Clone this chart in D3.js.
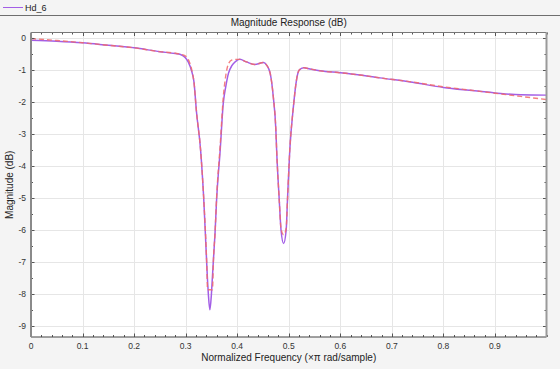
<!DOCTYPE html>
<html><head><meta charset="utf-8">
<script src="https://cdn.jsdelivr.net/npm/d3@7"></script>
<style>
html,body{margin:0;padding:0;background:#f4f4f4;}
svg{display:block;font-family:"Liberation Sans",Arial,Helvetica,sans-serif;}
</style></head>
<body>
<svg id="chart" width="560" height="369"></svg>
<script>
// ---- data ----
const freq = [0,0.05,0.1,0.15,0.2,0.25,0.28,0.29,0.299,0.305,0.312,0.316,0.321,0.329,0.335,0.341,0.3425,0.344,0.347,0.350,0.352,0.354,0.357,0.360,0.367,0.373,0.378,0.383,0.390,0.396,0.405,0.418,0.434,0.451,0.457,0.464,0.470,0.475,0.4765,0.4816,0.485,0.490,0.495,0.4975,0.502,0.509,0.515,0.520,0.529,0.535,0.561,0.600,0.638,0.677,0.740,0.800,0.850,0.900,0.950,1.000];
const magHd6 = [-0.06,-0.09,-0.14,-0.22,-0.30,-0.42,-0.48,-0.51,-0.60,-0.74,-1.05,-1.35,-2.30,-3.50,-5.00,-7.10,-7.60,-8.00,-8.50,-8.00,-7.45,-6.90,-6.10,-5.07,-3.50,-2.03,-1.50,-1.10,-0.85,-0.74,-0.66,-0.74,-0.82,-0.76,-0.84,-1.10,-1.83,-2.87,-3.50,-5.07,-6.00,-6.42,-6.00,-5.07,-3.50,-2.15,-1.31,-1.00,-0.92,-0.94,-1.02,-1.08,-1.15,-1.24,-1.38,-1.54,-1.63,-1.71,-1.77,-1.78];
const magRef = [-0.01,-0.07,-0.14,-0.22,-0.30,-0.42,-0.47,-0.50,-0.55,-0.66,-1.00,-1.35,-2.30,-3.50,-5.00,-7.10,-7.87,-7.87,-7.87,-7.87,-7.87,-6.90,-6.10,-5.00,-3.35,-1.85,-1.15,-0.80,-0.68,-0.66,-0.66,-0.74,-0.82,-0.76,-0.84,-1.10,-1.83,-2.87,-3.50,-5.07,-5.95,-6.15,-5.95,-5.07,-3.50,-2.15,-1.31,-1.00,-0.92,-0.94,-1.02,-1.08,-1.15,-1.24,-1.37,-1.52,-1.62,-1.72,-1.82,-1.92];
const xTicks = [0,0.1,0.2,0.3,0.4,0.5,0.6,0.7,0.8,0.9];
const yTicks = [0,-1,-2,-3,-4,-5,-6,-7,-8,-9];
const legendLabel = "Hd_6";
const titleText = "Magnitude Response (dB)";
const xLabel = "Normalized Frequency (\u00d7\u03c0 rad/sample)";
const yLabel = "Magnitude (dB)";

// ---- layout ----
const svg = d3.select("#chart");
const L = 31, R = 546.5, T = 32.5, B = 337;
const x = d3.scaleLinear().domain([0, 1]).range([L, R]);
const y = d3.scaleLinear().domain([-9.35, 0.18]).range([B, T]);

svg.append("rect").attr("width",560).attr("height",369).attr("fill","#f4f4f4");
// legend bar
svg.append("line").attr("x1",0).attr("x2",560).attr("y1",15.5).attr("y2",15.5).attr("stroke","#6e6e6e").attr("stroke-width",1);
svg.append("line").attr("x1",3).attr("x2",23).attr("y1",7.5).attr("y2",7.5).attr("stroke","#a35ee6").attr("stroke-width",1);
svg.append("text").attr("x",25).attr("y",10.5).attr("font-size",9).attr("fill","#222").text(legendLabel);

// plot background
svg.append("rect").attr("x",L).attr("y",T).attr("width",R-L).attr("height",B-T).attr("fill","#fff");

// grid
const g = svg.append("g");
g.selectAll(".gx").data(xTicks.slice(1)).join("line")
  .attr("x1",d=>Math.round(x(d))+0.5).attr("x2",d=>Math.round(x(d))+0.5)
  .attr("y1",T).attr("y2",B).attr("stroke","#e6e6e6").attr("stroke-width",1);
g.selectAll(".gy").data(yTicks).join("line")
  .attr("y1",d=>Math.round(y(d))+0.5).attr("y2",d=>Math.round(y(d))+0.5)
  .attr("x1",L).attr("x2",R).attr("stroke","#e6e6e6").attr("stroke-width",1);

// curves
const clip = svg.append("clipPath").attr("id","clp").append("rect").attr("x",L).attr("y",T).attr("width",R-L).attr("height",B-T);
const line = (arr) => d3.line().x((d,i)=>x(freq[i])).y((d,i)=>y(arr[i])).curve(d3.curveMonotoneX)(arr);
svg.append("path").attr("d",line(magHd6)).attr("fill","none").attr("stroke","#a35ee6").attr("stroke-width",1.5).attr("clip-path","url(#clp)");
svg.append("path").attr("d",line(magRef)).attr("fill","none").attr("stroke","#f26a6a").attr("stroke-opacity",0.85).attr("stroke-width",1.4).attr("stroke-dasharray","5,3").attr("clip-path","url(#clp)");

// ticks (inside)
const xMinor = d3.range(0, 1.0001, 0.02);
const yMinor = d3.range(-9, 0.0001, 0.5);
const tk = svg.append("g").attr("stroke","#555").attr("stroke-width",1);
xMinor.forEach(v=>{
  const major = xTicks.some(t=>Math.abs(t-v)<1e-6);
  const len = major ? 3.5 : 2;
  const px = Math.round(x(v))+0.5;
  tk.append("line").attr("x1",px).attr("x2",px).attr("y1",B).attr("y2",B-len);
  tk.append("line").attr("x1",px).attr("x2",px).attr("y1",T).attr("y2",T+len);
});
yMinor.forEach(v=>{
  const major = yTicks.some(t=>Math.abs(t-v)<1e-6);
  const len = major ? 3.5 : 2;
  const py = Math.round(y(v))+0.5;
  tk.append("line").attr("y1",py).attr("y2",py).attr("x1",L).attr("x2",L+len);
  tk.append("line").attr("y1",py).attr("y2",py).attr("x1",R).attr("x2",R-len);
});

// axes box
svg.append("line").attr("x1",L).attr("x2",R).attr("y1",T).attr("y2",T).attr("stroke","#777").attr("stroke-width",1);
svg.append("line").attr("x1",L).attr("x2",R).attr("y1",B).attr("y2",B).attr("stroke","#444").attr("stroke-width",1.2);
svg.append("line").attr("x1",L).attr("x2",L).attr("y1",T).attr("y2",B).attr("stroke","#8a8a8a").attr("stroke-width",2);
svg.append("line").attr("x1",R).attr("x2",R).attr("y1",T).attr("y2",B).attr("stroke","#9a9a9a").attr("stroke-width",2);

// tick labels
svg.append("g").selectAll("text").data(xTicks).join("text")
  .attr("x",d=>x(d)).attr("y",B+12).attr("text-anchor","middle")
  .attr("font-size",8.5).attr("fill","#333").text(d=>d3.format("")(d));
svg.append("g").selectAll("text").data(yTicks).join("text")
  .attr("x",L-5).attr("y",d=>y(d)+3).attr("text-anchor","end")
  .attr("font-size",8.5).attr("fill","#333").text(d=>d);

// titles
svg.append("text").attr("x",(L+R)/2).attr("y",26).attr("text-anchor","middle").attr("font-size",10).attr("fill","#222").text(titleText);
svg.append("text").attr("x",(L+R)/2).attr("y",361).attr("text-anchor","middle").attr("font-size",10).attr("fill","#222").text(xLabel);
svg.append("text").attr("transform",`translate(13,${(T+B)/2}) rotate(-90)`).attr("text-anchor","middle").attr("font-size",10).attr("fill","#222").text(yLabel);
</script>
</body></html>
